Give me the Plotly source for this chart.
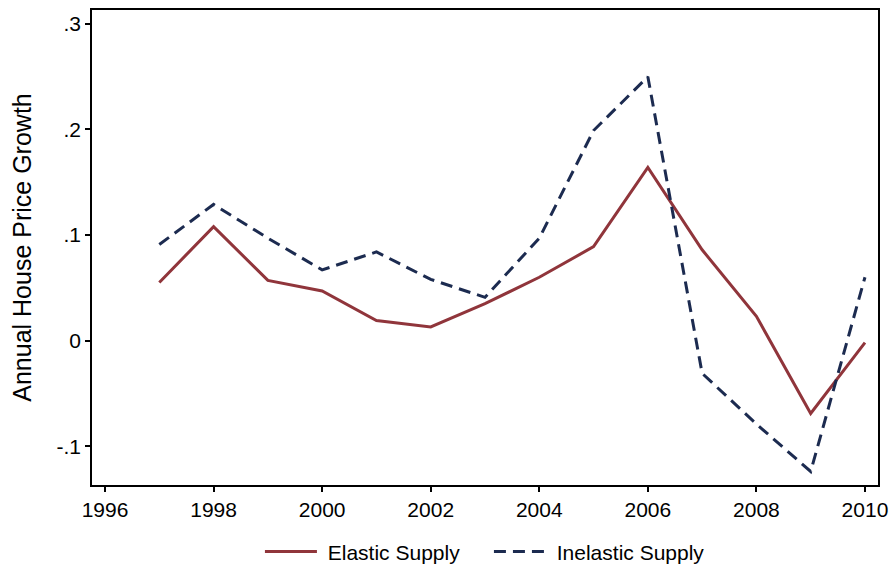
import plotly.graph_objects as go

years = list(range(1997, 2011))
elastic = [0.055, 0.108, 0.057, 0.047, 0.019, 0.013, 0.035, 0.060, 0.089, 0.164,
           0.086, 0.023, -0.069, -0.002]
inelastic = [0.091, 0.129, 0.097, 0.067, 0.084, 0.058, 0.041, 0.097, 0.199, 0.250,
             -0.031, -0.079, -0.124, 0.060]

x_ticks = [1996, 1998, 2000, 2002, 2004, 2006, 2008, 2010]
y_ticks = [-0.1, 0, 0.1, 0.2, 0.3]
y_labels = ['-.1', '0', '.1', '.2', '.3']

fig = go.Figure()
# leading nbsp widens the gap between legend sample and label
fig.add_trace(go.Scatter(x=years, y=elastic, mode='lines', name='\u00a0Elastic Supply',
                         line=dict(color='#90353B', width=3)))
fig.add_trace(go.Scatter(x=years, y=inelastic, mode='lines', name='\u00a0Inelastic Supply',
                         line=dict(color='#1C2B50', width=3, dash='12px,7px')))

axis_common = dict(showline=True, linecolor='black', linewidth=1.5, mirror=True,
                   ticks='outside', ticklen=5, tickwidth=1.5, tickcolor='black', showgrid=False,
                   zeroline=False, ticklabeloverflow='allow',
                   tickfont=dict(family='Liberation Sans, Arial', size=21, color='black'))

fig.update_layout(
    width=896, height=570,
    margin=dict(l=92, r=15, t=8, b=85),
    plot_bgcolor='white', paper_bgcolor='white',
    font=dict(family='Liberation Sans, Arial', size=21, color='black'),
    xaxis=dict(range=[1995.76, 2010.24], tickvals=x_ticks, **axis_common),
    yaxis=dict(range=[-0.1368, 0.3132], tickvals=y_ticks, ticktext=y_labels,
               title=dict(text='Annual House Price Growth', standoff=18), **axis_common),
    legend=dict(orientation='h', x=0.505, xanchor='center', yref='container', y=0.032,
                yanchor='middle', font=dict(size=21), itemwidth=52, entrywidth=162),
    showlegend=True,
)

# drop the default body margin so the 896x570 figure fills the window exactly
fig.write_html("out.html", config={'displayModeBar': False},
               post_script="document.body.style.margin='0';")
